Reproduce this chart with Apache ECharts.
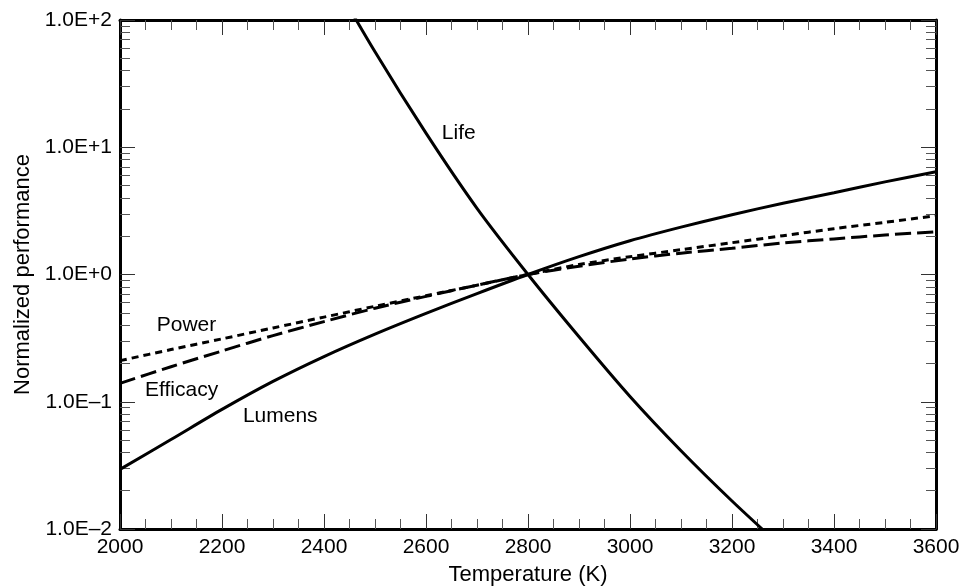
<!DOCTYPE html>
<html>
<head>
<meta charset="utf-8">
<script src="https://cdn.jsdelivr.net/npm/echarts@6/dist/echarts.min.js"></script>
<style>
  html, body { margin: 0; padding: 0; background: #fff; }
  #chart { width: 963px; height: 586px; }
</style>
</head>
<body>
<div id="chart"></div>
<script>
// Filament temperature (K) and normalized lamp performance (1.0 at 2800 K)
const temperatures = [2000, 2100, 2200, 2300, 2400, 2500, 2600, 2700, 2800,
                      2900, 3000, 3100, 3200, 3300, 3400, 3500, 3600];
const lumens   = [0.0294, 0.0505, 0.0871, 0.1445, 0.2265, 0.340, 0.495, 0.708, 1.0,
                  1.380, 1.841, 2.355, 2.951, 3.631, 4.395, 5.346, 6.427];
const power    = [0.2104, 0.2570, 0.3119, 0.3802, 0.4624, 0.5623, 0.6808, 0.8241, 1.0,
                  1.197, 1.380, 1.567, 1.778, 2.018, 2.291, 2.570, 2.897];
const efficacy = [0.1396, 0.1884, 0.2506, 0.3311, 0.4266, 0.5433, 0.6730, 0.8241, 1.0,
                  1.161, 1.324, 1.472, 1.607, 1.770, 1.905, 2.042, 2.168];
const life     = [null, null, null, null, 275, 56.2, 12.9, 3.31, 1.0,
                  0.324, 0.110, 0.0412, 0.0166, 0.00708, null, null, null];

// Axis ticks
const xTickValues = [2000, 2200, 2400, 2600, 2800, 3000, 3200, 3400, 3600];
const yTickValues = [0.01, 0.1, 1, 10, 100];
const yTickLabels = ['1.0E\u20132', '1.0E\u20131', '1.0E+0', '1.0E+1', '1.0E+2'];

// Curve captions and the data point each caption is pinned to (left edge, middle)
const curveNames = ['Life', 'Power', 'Efficacy', 'Lumens'];
const curveCaptionAnchors = [[2631, 12.9], [2072, 0.401], [2049, 0.1237], [2241, 0.0763]];

const FONT = '"Liberation Sans", Arial, Helvetica, sans-serif';
const FONT_SIZE = 21;
const TITLE_SIZE = 22;
const INK = '#000';

// Intermediate decade ticks (2..9 x 10^n), expressed as exponents
const minorExponents = [];
for (let d = -2; d < 2; d++) {
  for (let k = 2; k <= 9; k++) minorExponents.push(d + Math.log10(k));
}

const pairs = arr => temperatures.map((t, i) => [t, arr[i]]);
const yLabel = v => {
  const i = yTickValues.findIndex(t => Math.abs(Math.log10(t) - Math.log10(v)) < 1e-6);
  return i >= 0 ? yTickLabels[i] : '';
};

const chart = echarts.init(document.getElementById('chart'), null, { renderer: 'canvas' });

const xBase = (position, labels) => ({
  type: 'value', position,
  min: xTickValues[0], max: xTickValues[xTickValues.length - 1], interval: 200,
  axisLine: { show: true, onZero: false, lineStyle: { color: INK, width: 3 } },
  axisTick: { show: true, inside: true, length: 15, lineStyle: { color: '#333', width: 1 } },
  minorTick: { show: true, splitNumber: 4, length: 10, lineStyle: { color: '#555', width: 1 } },
  splitLine: { show: false },
  axisLabel: { show: labels, margin: 8, color: INK, fontSize: FONT_SIZE, fontFamily: FONT,
               formatter: v => String(v) },
});

const yLogBase = (position, labels) => ({
  type: 'log', logBase: 10, position,
  min: yTickValues[0], max: yTickValues[yTickValues.length - 1],
  splitNumber: 4,
  axisLine: { show: true, onZero: false, lineStyle: { color: INK, width: 3 } },
  axisTick: { show: true, inside: true, length: 15, lineStyle: { color: '#333', width: 1 } },
  splitLine: { show: false },
  axisLabel: { show: labels, margin: 8, color: INK, fontSize: FONT_SIZE, fontFamily: FONT, formatter: yLabel },
});

const yMinor = position => ({
  type: 'value', position, min: -2, max: 2,
  axisLine: { show: false },
  axisTick: { show: true, inside: true, length: 10, customValues: minorExponents,
              lineStyle: { color: '#555', width: 1 } },
  axisLabel: { show: false },
  splitLine: { show: false },
});

const lineSeries = (name, data, dash) => ({
  type: 'line', name, data: pairs(data),
  xAxisIndex: 0, yAxisIndex: 0,
  smooth: 0.3, showSymbol: false, clip: true, silent: true,
  lineStyle: { color: INK, width: 3, type: dash, cap: 'butt' },
});

chart.setOption({
  animation: false,
  backgroundColor: '#fff',
  grid: { left: 120, right: 27, top: 20, bottom: 57, containLabel: false, outerBoundsMode: 'none' },
  xAxis: [
    Object.assign(xBase('bottom', true), {
      name: 'Temperature (K)', nameLocation: 'middle', nameGap: 35,
      nameTextStyle: { color: INK, fontSize: TITLE_SIZE, fontFamily: FONT },
    }),
    xBase('top', false),
  ],
  yAxis: [
    Object.assign(yLogBase('left', true), {
      name: 'Normalized performance', nameLocation: 'middle', nameGap: 86, nameRotate: 90,
      nameTextStyle: { color: INK, fontSize: TITLE_SIZE, fontFamily: FONT },
    }),
    yLogBase('right', false),
    yMinor('left'),
    yMinor('right'),
  ],
  series: [
    lineSeries('Life', life, 'solid'),
    lineSeries('Lumens', lumens, 'solid'),
    lineSeries('Power', power, [7, 5]),
    lineSeries('Efficacy', efficacy, [16, 6]),
  ],
});

// Captions placed next to their curves, positioned through the axes
chart.setOption({
  graphic: curveNames.map((name, i) => {
    const p = chart.convertToPixel({ xAxisIndex: 0, yAxisIndex: 0 }, curveCaptionAnchors[i]);
    return {
      type: 'text', x: p[0], y: p[1], silent: true,
      style: { text: name, fill: INK, font: FONT_SIZE + 'px ' + FONT, textAlign: 'left', textVerticalAlign: 'middle' },
    };
  }),
});
</script>
</body>
</html>
